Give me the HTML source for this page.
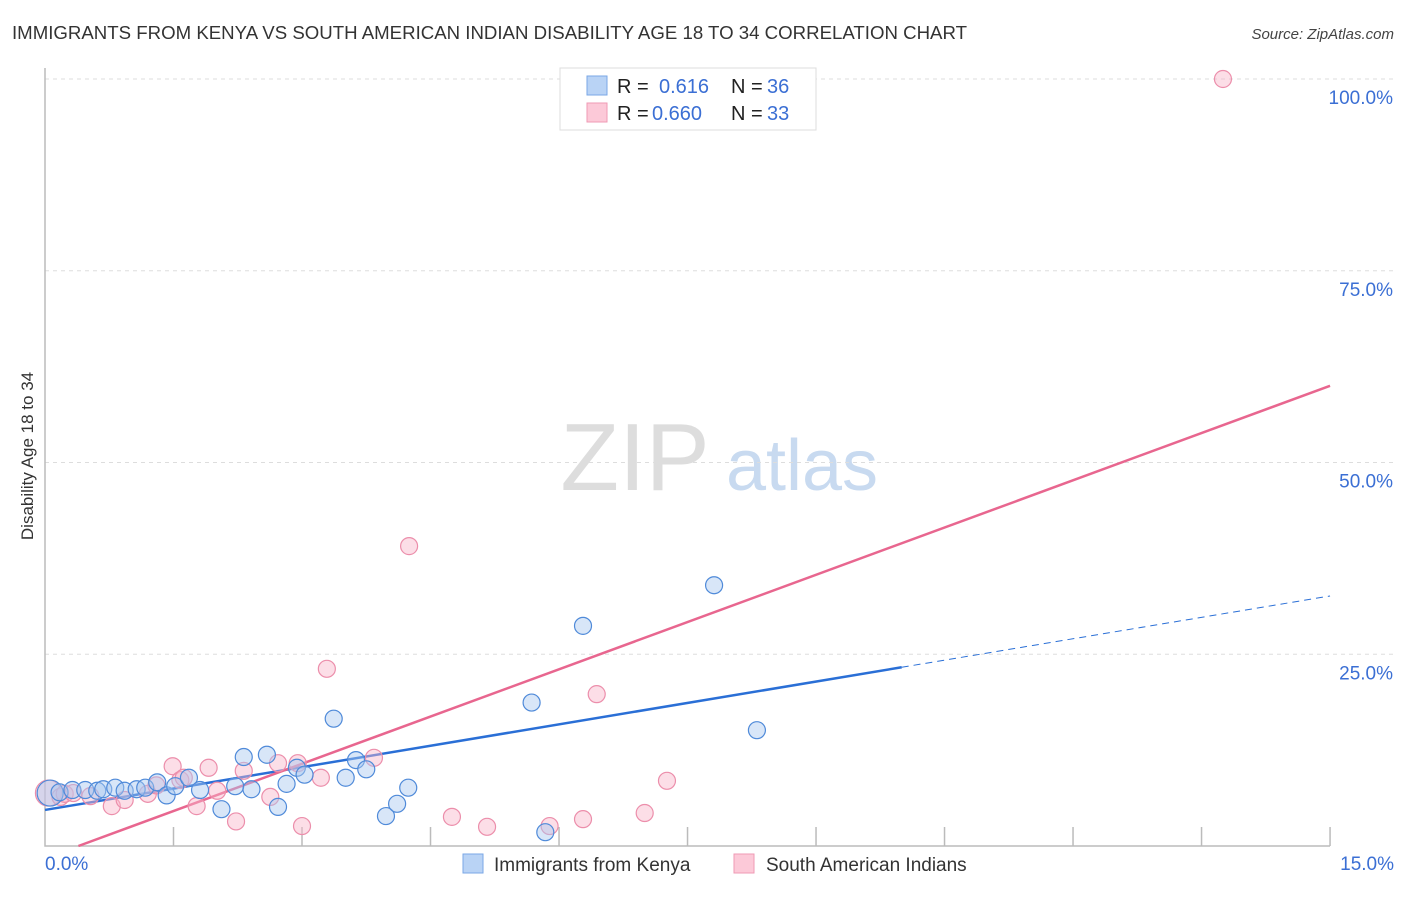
<!DOCTYPE html>
<html><head><meta charset="utf-8"><style>
body{margin:0;background:#fff;font-family:"Liberation Sans",sans-serif;}
svg text{font-family:"Liberation Sans",sans-serif;}
</style></head><body>
<svg id="chart" width="1406" height="892" xmlns="http://www.w3.org/2000/svg">
<text x="12" y="39" font-size="18" fill="#333" textLength="955" lengthAdjust="spacingAndGlyphs">IMMIGRANTS FROM KENYA VS SOUTH AMERICAN INDIAN DISABILITY AGE 18 TO 34 CORRELATION CHART</text>
<text x="1394" y="39" font-size="15" font-style="italic" fill="#444" text-anchor="end">Source: ZipAtlas.com</text>
<text transform="translate(33,456) rotate(-90)" font-size="17" fill="#333" text-anchor="middle">Disability Age 18 to 34</text>
<g>
<text x="635" y="490" font-size="96" font-family="Liberation Serif" fill="#ddd" text-anchor="middle">ZIP</text>
<text x="802" y="490" font-size="72" fill="#c8daf0" text-anchor="middle">atlas</text>
</g>
<g id="grid"></g><g id="axes"></g><g id="lines"></g><g id="pts"></g>
<g>
<rect x="560" y="68" width="256" height="62" fill="#fff" stroke="#ddd"/>
<rect x="587" y="76" width="20" height="19" fill="#b9d3f5" stroke="#7aa7e6"/>
<rect x="587" y="103" width="20" height="19" fill="#fcc9d8" stroke="#ef9ab4"/>
<text x="617" y="93" font-size="20" fill="#222">R =</text>
<text x="659" y="93" font-size="20" fill="#3b6fd4">0.616</text>
<text x="731" y="93" font-size="20" fill="#222">N =</text>
<text x="767" y="93" font-size="20" fill="#3b6fd4">36</text>
<text x="617" y="120" font-size="20" fill="#222">R =</text>
<text x="652" y="120" font-size="20" fill="#3b6fd4">0.660</text>
<text x="731" y="120" font-size="20" fill="#222">N =</text>
<text x="767" y="120" font-size="20" fill="#3b6fd4">33</text>
</g>
<g>
<rect x="463" y="854" width="20" height="19" fill="#b9d3f5" stroke="#7aa7e6"/>
<text x="494" y="871" font-size="19" fill="#333">Immigrants from Kenya</text>
<rect x="734" y="854" width="20" height="19" fill="#fcc9d8" stroke="#ef9ab4"/>
<text x="766" y="871" font-size="19" fill="#333">South American Indians</text>
</g>
</svg>
<script>
const yTicks=[25,50,75,100];
const yTickLabels=["25.0%","50.0%","75.0%","100.0%"];
const xTickLabels=["0.0%","15.0%"];
const kenyaX=[0.06,0.17,0.32,0.47,0.61,0.68,0.82,0.93,1.07,1.17,1.31,1.42,1.52,1.68,1.81,2.06,2.22,2.32,2.41,2.59,2.72,2.82,2.94,3.03,3.37,3.51,3.63,3.75,3.98,4.11,4.24,5.68,5.84,6.28,7.81,8.31];
const kenyaY=[6.9,7.0,7.3,7.3,7.2,7.4,7.6,7.2,7.4,7.6,8.3,6.6,7.8,8.9,7.3,4.8,7.8,11.6,7.4,11.9,5.1,8.1,10.2,9.3,16.6,8.9,11.2,10.0,3.9,5.5,7.6,18.7,1.8,28.7,34.0,15.1];
const saiX=[0.04,0.18,0.23,0.33,0.53,0.78,0.93,1.2,1.3,1.49,1.58,1.62,1.77,1.91,2.01,2.23,2.32,2.63,2.72,2.95,3.0,3.22,3.29,3.84,4.25,4.75,5.16,5.89,6.28,6.44,7.0,7.26,13.75];
const saiY=[6.9,6.4,6.8,6.9,6.5,5.2,6.0,6.8,7.9,10.4,8.6,8.9,5.2,10.2,7.2,3.2,9.8,6.4,10.8,10.8,2.6,8.9,23.1,11.5,39.1,3.8,2.5,2.6,3.5,19.8,4.3,8.5,100];
const kenyaLine=[[0,4.7],[10,23.3],[15,32.6]];
const saiLine=[[0.39,0],[15,60]];
const NS="http://www.w3.org/2000/svg";
const X=v=>45+v*85.67, Y=v=>846-v*7.67;
function mk(tag,attrs,parent){const e=document.createElementNS(NS,tag);for(const k in attrs)e.setAttribute(k,attrs[k]);document.getElementById(parent).appendChild(e);return e;}
yTicks.forEach((t,i)=>{
 const g=mk('line',{x1:45,x2:1394,y1:Y(t),y2:Y(t),stroke:'#ddd','stroke-dasharray':'4,4'},'grid');
 
 
 const l=mk('text',{x:1393,y:Y(t)+25,'font-size':19,fill:'#3b6fd4','text-anchor':'end'},'axes');
 l.textContent=yTickLabels[i];
 
 
});
const ax=mk('path',{d:'M45,68V846H1330',stroke:'#bbb',fill:'none','stroke-width':1.5},'axes');


for(let i=1;i<=10;i++){const t=mk('line',{x1:X(i*1.5),x2:X(i*1.5),y1:827,y2:846,stroke:'#bbb','stroke-width':1.5},'axes');
 
 }
[[0,'start',45],[15,'end',1394]].forEach((d,i)=>{const l=mk('text',{x:d[2],y:870,'font-size':19,fill:'#3b6fd4','text-anchor':d[1]},'axes');l.textContent=xTickLabels[i];
 
 });
function pts(xs,ys,fill,stroke,name){xs.forEach((x,i)=>{const c=mk('circle',{cx:X(x),cy:Y(ys[i]),r:(i==0?13:8.5),fill:fill,stroke:stroke,'stroke-width':1.2,'fill-opacity':0.45},'pts');
 
 });}
pts(saiX,saiY,'#f9b6ca','#ec8eab','sai-point');
pts(kenyaX,kenyaY,'#a9c8f0','#4f8ad9','kenya-point');
let l1=mk('line',{x1:X(kenyaLine[0][0]),y1:Y(kenyaLine[0][1]),x2:X(kenyaLine[1][0]),y2:Y(kenyaLine[1][1]),stroke:'#2a6fd6','stroke-width':2.5},'lines');


let l2=mk('line',{x1:X(kenyaLine[1][0]),y1:Y(kenyaLine[1][1]),x2:X(kenyaLine[2][0]),y2:Y(kenyaLine[2][1]),stroke:'#2a6fd6','stroke-width':1,'stroke-dasharray':'7,5'},'lines');


let l3=mk('line',{x1:X(saiLine[0][0]),y1:Y(saiLine[0][1]),x2:X(saiLine[1][0]),y2:Y(saiLine[1][1]),stroke:'#e8668f','stroke-width':2.5},'lines');


</script>
</body></html>
